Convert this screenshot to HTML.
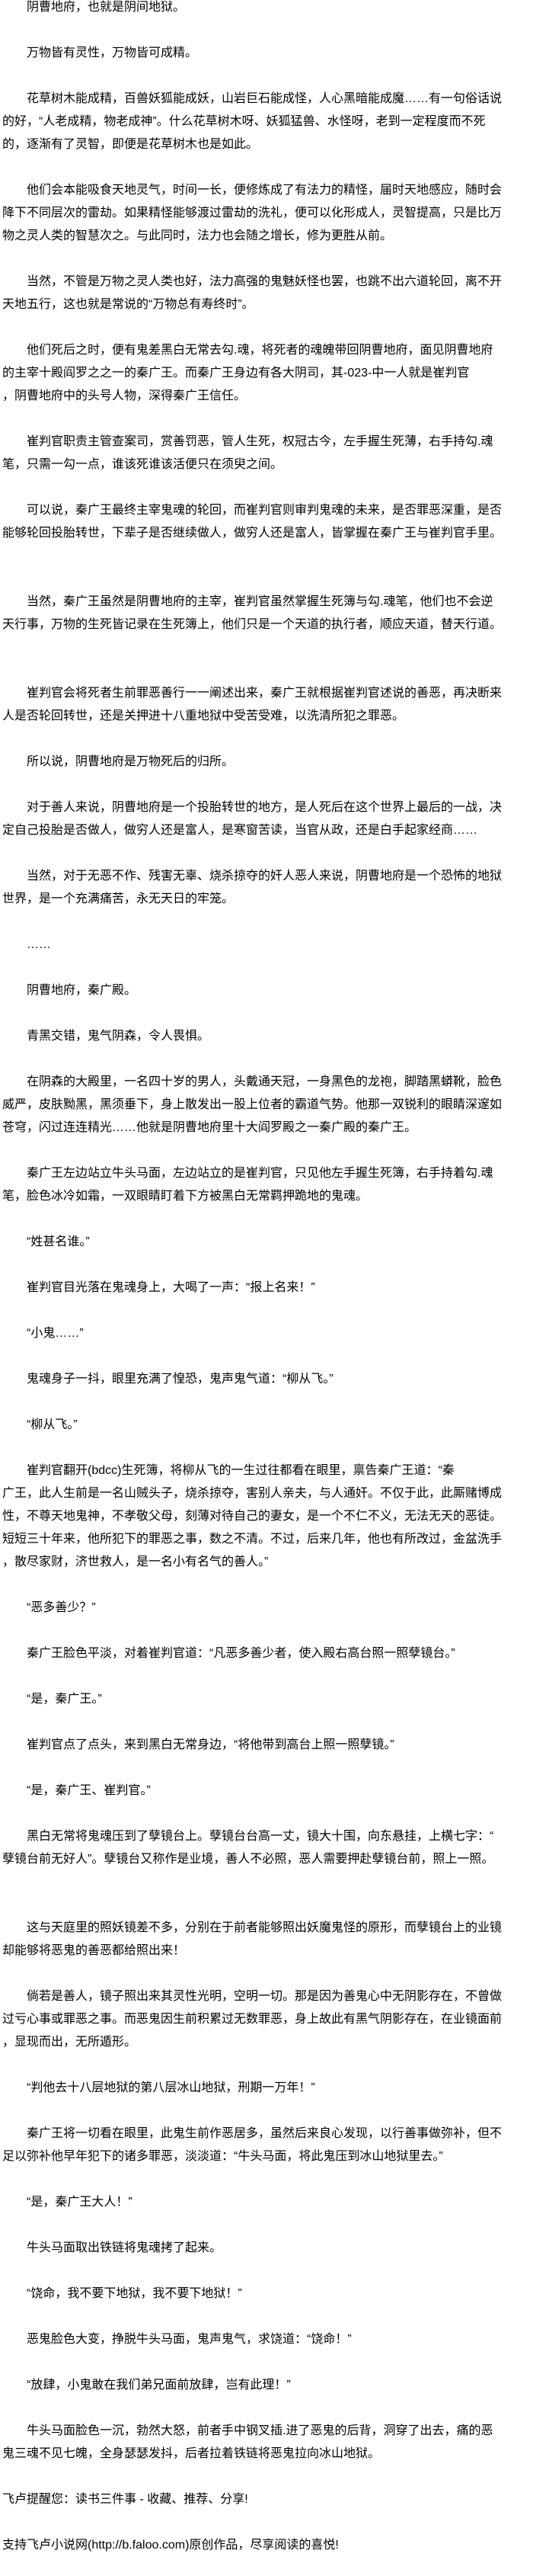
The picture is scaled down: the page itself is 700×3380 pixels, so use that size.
<!DOCTYPE html>
<html><head><meta charset="utf-8">
<style>
html,body{margin:0;padding:0;background:#fff;}
body{width:700px;height:3380px;position:relative;overflow:hidden;font-family:"Liberation Sans","Noto Sans CJK SC",sans-serif;font-size:16px;color:#000;}
p{position:absolute;margin:0;left:3px;height:30px;line-height:30px;white-space:nowrap;}
p.i{left:35px;}
</style></head><body>
<p class="i" style="top:-5px">阴曹地府，也就是阴间地狱。</p>
<p class="i" style="top:55px">万物皆有灵性，万物皆可成精。</p>
<p class="i" style="top:115px">花草树木能成精，百兽妖狐能成妖，山岩巨石能成怪，人心黑暗能成魔……有一句俗话说</p>
<p style="top:145px">的好，“人老成精，物老成神”。什么花草树木呀、妖狐猛兽、水怪呀，老到一定程度而不死</p>
<p style="top:175px">的，逐渐有了灵智，即便是花草树木也是如此。</p>
<p class="i" style="top:235px">他们会本能吸食天地灵气，时间一长，便修炼成了有法力的精怪，届时天地感应，随时会</p>
<p style="top:265px">降下不同层次的雷劫。如果精怪能够渡过雷劫的洗礼，便可以化形成人，灵智提高，只是比万</p>
<p style="top:295px">物之灵人类的智慧次之。与此同时，法力也会随之增长，修为更胜从前。</p>
<p class="i" style="top:355px">当然，不管是万物之灵人类也好，法力高强的鬼魅妖怪也罢，也跳不出六道轮回，离不开</p>
<p style="top:385px">天地五行，这也就是常说的“万物总有寿终时”。</p>
<p class="i" style="top:445px">他们死后之时，便有鬼差黑白无常去勾.魂，将死者的魂魄带回阴曹地府，面见阴曹地府</p>
<p style="top:475px">的主宰十殿阎罗之之一的秦广王。而秦广王身边有各大阴司，其-023-中一人就是崔判官</p>
<p style="top:505px">，阴曹地府中的头号人物，深得秦广王信任。</p>
<p class="i" style="top:565px">崔判官职责主管查案司，赏善罚恶，管人生死，权冠古今，左手握生死薄，右手持勾.魂</p>
<p style="top:595px">笔，只需一勾一点，谁该死谁该活便只在须臾之间。</p>
<p class="i" style="top:655px">可以说，秦广王最终主宰鬼魂的轮回，而崔判官则审判鬼魂的未来，是否罪恶深重，是否</p>
<p style="top:685px">能够轮回投胎转世，下辈子是否继续做人，做穷人还是富人，皆掌握在秦广王与崔判官手里。</p>
<p class="i" style="top:775px">当然，秦广王虽然是阴曹地府的主宰，崔判官虽然掌握生死簿与勾.魂笔，他们也不会逆</p>
<p style="top:805px">天行事，万物的生死皆记录在生死簿上，他们只是一个天道的执行者，顺应天道，替天行道。</p>
<p class="i" style="top:895px">崔判官会将死者生前罪恶善行一一阐述出来，秦广王就根据崔判官述说的善恶，再决断来</p>
<p style="top:925px">人是否轮回转世，还是关押进十八重地狱中受苦受难，以洗清所犯之罪恶。</p>
<p class="i" style="top:985px">所以说，阴曹地府是万物死后的归所。</p>
<p class="i" style="top:1045px">对于善人来说，阴曹地府是一个投胎转世的地方，是人死后在这个世界上最后的一战，决</p>
<p style="top:1075px">定自己投胎是否做人，做穷人还是富人，是寒窗苦读，当官从政，还是白手起家经商……</p>
<p class="i" style="top:1135px">当然，对于无恶不作、残害无辜、烧杀掠夺的奸人恶人来说，阴曹地府是一个恐怖的地狱</p>
<p style="top:1165px">世界，是一个充满痛苦，永无天日的牢笼。</p>
<p class="i" style="top:1225px">……</p>
<p class="i" style="top:1285px">阴曹地府，秦广殿。</p>
<p class="i" style="top:1345px">青黑交错，鬼气阴森，令人畏惧。</p>
<p class="i" style="top:1405px">在阴森的大殿里，一名四十岁的男人，头戴通天冠，一身黑色的龙袍，脚踏黑蟒靴，脸色</p>
<p style="top:1435px">威严，皮肤黝黑，黑须垂下，身上散发出一股上位者的霸道气势。他那一双锐利的眼睛深邃如</p>
<p style="top:1465px">苍穹，闪过连连精光……他就是阴曹地府里十大阎罗殿之一秦广殿的秦广王。</p>
<p class="i" style="top:1525px">秦广王左边站立牛头马面，左边站立的是崔判官，只见他左手握生死簿，右手持着勾.魂</p>
<p style="top:1555px">笔，脸色冰冷如霜，一双眼睛盯着下方被黑白无常羁押跪地的鬼魂。</p>
<p class="i" style="top:1615px">“姓甚名谁。”</p>
<p class="i" style="top:1675px">崔判官目光落在鬼魂身上，大喝了一声：“报上名来！”</p>
<p class="i" style="top:1735px">“小鬼……”</p>
<p class="i" style="top:1795px">鬼魂身子一抖，眼里充满了惶恐，鬼声鬼气道：“柳从飞。”</p>
<p class="i" style="top:1855px">“柳从飞。”</p>
<p class="i" style="top:1915px">崔判官翻开(bdcc)生死簿，将柳从飞的一生过往都看在眼里，禀告秦广王道：“秦</p>
<p style="top:1945px">广王，此人生前是一名山贼头子，烧杀掠夺，害别人亲夫，与人通奸。不仅于此，此厮赌博成</p>
<p style="top:1975px">性，不尊天地鬼神，不孝敬父母，刻薄对待自己的妻女，是一个不仁不义，无法无天的恶徒。</p>
<p style="top:2005px">短短三十年来，他所犯下的罪恶之事，数之不清。不过，后来几年，他也有所改过，金盆洗手</p>
<p style="top:2035px">，散尽家财，济世救人，是一名小有名气的善人。”</p>
<p class="i" style="top:2095px">“恶多善少？”</p>
<p class="i" style="top:2155px">秦广王脸色平淡，对着崔判官道：“凡恶多善少者，使入殿右高台照一照孽镜台。”</p>
<p class="i" style="top:2215px">“是，秦广王。”</p>
<p class="i" style="top:2275px">崔判官点了点头，来到黑白无常身边，“将他带到高台上照一照孽镜。”</p>
<p class="i" style="top:2335px">“是，秦广王、崔判官。”</p>
<p class="i" style="top:2395px">黑白无常将鬼魂压到了孽镜台上。孽镜台台高一丈，镜大十围，向东悬挂，上横七字：“</p>
<p style="top:2425px">孽镜台前无好人”。孽镜台又称作是业境，善人不必照，恶人需要押赴孽镜台前，照上一照。</p>
<p class="i" style="top:2515px">这与天庭里的照妖镜差不多，分别在于前者能够照出妖魔鬼怪的原形，而孽镜台上的业镜</p>
<p style="top:2545px">却能够将恶鬼的善恶都给照出来！</p>
<p class="i" style="top:2605px">倘若是善人，镜子照出来其灵性光明，空明一切。那是因为善鬼心中无阴影存在，不曾做</p>
<p style="top:2635px">过亏心事或罪恶之事。而恶鬼因生前积累过无数罪恶，身上故此有黑气阴影存在，在业镜面前</p>
<p style="top:2665px">，显现而出，无所遁形。</p>
<p class="i" style="top:2725px">“判他去十八层地狱的第八层冰山地狱，刑期一万年！”</p>
<p class="i" style="top:2785px">秦广王将一切看在眼里，此鬼生前作恶居多，虽然后来良心发现，以行善事做弥补，但不</p>
<p style="top:2815px">足以弥补他早年犯下的诸多罪恶，淡淡道：“牛头马面，将此鬼压到冰山地狱里去。”</p>
<p class="i" style="top:2875px">“是，秦广王大人！”</p>
<p class="i" style="top:2935px">牛头马面取出铁链将鬼魂拷了起来。</p>
<p class="i" style="top:2995px">“饶命，我不要下地狱，我不要下地狱！”</p>
<p class="i" style="top:3055px">恶鬼脸色大变，挣脱牛头马面，鬼声鬼气，求饶道：“饶命！”</p>
<p class="i" style="top:3115px">“放肆，小鬼敢在我们弟兄面前放肆，岂有此理！”</p>
<p class="i" style="top:3175px">牛头马面脸色一沉，勃然大怒，前者手中钢叉插.进了恶鬼的后背，洞穿了出去，痛的恶</p>
<p style="top:3205px">鬼三魂不见七魄，全身瑟瑟发抖，后者拉着铁链将恶鬼拉向冰山地狱。</p>
<p style="top:3265px">飞卢提醒您：读书三件事 - 收藏、推荐、分享!</p>
<p style="top:3325px">支持飞卢小说网(http://b.faloo.com)原创作品，尽享阅读的喜悦!</p>
</body></html>
